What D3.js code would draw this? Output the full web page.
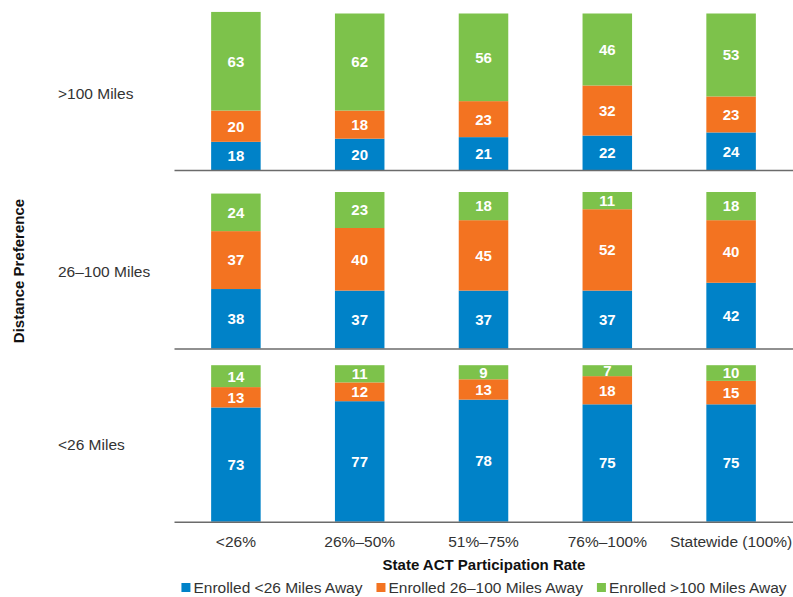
<!DOCTYPE html>
<html>
<head>
<meta charset="utf-8">
<script src="https://cdn.jsdelivr.net/npm/d3@7/dist/d3.min.js"></script>
<style>
  body { margin: 0; background: #fff; }
  text { font-family: "Liberation Sans", Arial, Helvetica, sans-serif; }
</style>
</head>
<body>
<svg id="chart" width="793" height="597"></svg>
<script>
// Categories
var rates = ['<26%', '26%–50%', '51%–75%', '76%–100%', 'Statewide (100%)']
var preferences = ['>100 Miles', '26–100 Miles', '<26 Miles']
var seriesNames = ['Enrolled <26 Miles Away', 'Enrolled 26–100 Miles Away', 'Enrolled >100 Miles Away']

// Percent enrolled, one row per distance preference, one value per rate
var enrolledNear = [[18, 20, 21, 22, 24], [38, 37, 37, 37, 42], [73, 77, 78, 75, 75]]
var enrolledMid  = [[20, 18, 23, 32, 23], [37, 40, 45, 52, 40], [13, 12, 13, 18, 15]]
var enrolledFar  = [[63, 62, 56, 46, 53], [24, 23, 18, 11, 18], [14, 11, 9, 7, 10]]

var colors = ['#0082c8', '#f37321', '#7dc24b']
var keys = ['near', 'mid', 'far']

var svg = d3.select('#chart')

// x: one band per participation rate
var x = d3.scaleBand()
    .domain(rates)
    .range([174, 793])
    .paddingInner(0.6)
    .paddingOuter(0.3)

// each panel sits on its own baseline
var baselines = [170, 348.5, 521.7]
var panelHeight = 156.5

var stack = d3.stack().keys(keys)

preferences.forEach(function(pref, r) {
    var base = baselines[r]
    var y = d3.scaleLinear().domain([0, 100]).range([base, base - panelHeight])

    var rows = rates.map(function(rate, i) {
        return { rate: rate, near: enrolledNear[r][i], mid: enrolledMid[r][i], far: enrolledFar[r][i] }
    })

    var panel = svg.append('g').attr('class', 'panel')

    var layers = panel.selectAll('.layer')
        .data(stack(rows))
        .enter()
        .append('g')
        .attr('class', 'layer')
        .attr('fill', function(d, i) { return colors[i] })

    layers.selectAll('rect')
        .data(function(d) { return d })
        .enter()
        .append('rect')
        .attr('x', function(d) { return x(d.data.rate) })
        .attr('width', x.bandwidth())
        .attr('y', function(d) { return y(d[1]) })
        .attr('height', function(d) { return y(d[0]) - y(d[1]) })

    layers.selectAll('text')
        .data(function(d) { return d })
        .enter()
        .append('text')
        .attr('x', function(d) { return x(d.data.rate) + x.bandwidth() / 2 })
        .attr('y', function(d) { return (y(d[0]) + y(d[1])) / 2 })
        .attr('dy', '0.36em')
        .attr('text-anchor', 'middle')
        .attr('fill', '#fff')
        .style('font-weight', 'bold')
        .style('font-size', '15px')
        .text(function(d) { return d[1] - d[0] })

    // baseline, with tick labels only under the last panel
    var axis = d3.axisBottom(x).tickSize(0).tickSizeOuter(0).tickPadding(14)
    if (r < preferences.length - 1) axis.tickFormat('')
    var g = panel.append('g')
        .attr('transform', 'translate(0,' + base + ')')
        .call(axis)
    g.select('.domain').attr('stroke', '#6b6b6b').attr('stroke-width', 1.6)
    g.selectAll('.tick text')
        .attr('fill', '#333')
        .style('font-size', '15.5px')
        .style('font-family', '"Liberation Sans", Arial, sans-serif')

    // row label
    panel.append('text')
        .attr('x', 58)
        .attr('y', base - panelHeight / 2 + 1.5)
        .attr('dy', '0.35em')
        .attr('fill', '#333')
        .style('font-size', '15.5px')
        .text(pref)
})

// Axis titles
svg.append('text')
    .attr('transform', 'translate(19,271) rotate(-90)')
    .attr('dy', '0.35em')
    .attr('text-anchor', 'middle')
    .attr('fill', '#111')
    .style('font-weight', 'bold')
    .style('font-size', '15px')
    .text('Distance Preference')

svg.append('text')
    .attr('x', 484)
    .attr('y', 565)
    .attr('dy', '0.35em')
    .attr('text-anchor', 'middle')
    .attr('fill', '#111')
    .style('font-weight', 'bold')
    .style('font-size', '15px')
    .text('State ACT Participation Rate')

// Legend
var legendSize = 9,
    legendSpacing = 3,
    legendGap = 14

var legend = svg.append('g').attr('class', 'legend')
var items = legend.selectAll('.item')
    .data(seriesNames)
    .enter()
    .append('g')
    .attr('class', 'item')

items.append('rect')
    .attr('width', legendSize)
    .attr('height', legendSize)
    .attr('y', 583)
    .attr('fill', function(d, i) { return colors[i] })

items.append('text')
    .attr('x', legendSize + legendSpacing)
    .attr('y', 588)
    .attr('dy', '0.35em')
    .attr('fill', '#333')
    .style('font-size', '15.5px')
    .text(function(d) { return d })

var offset = 0
var widths = []
items.each(function() {
    var w = legendSize + legendSpacing + d3.select(this).select('text').node().getComputedTextLength()
    widths.push(w)
})
var total = d3.sum(widths) + legendGap * (widths.length - 1)
offset = 484 - total / 2
items.attr('transform', function(d, i) {
    var tx = offset
    offset += widths[i] + legendGap
    return 'translate(' + tx + ',0)'
})
</script>
</body>
</html>
